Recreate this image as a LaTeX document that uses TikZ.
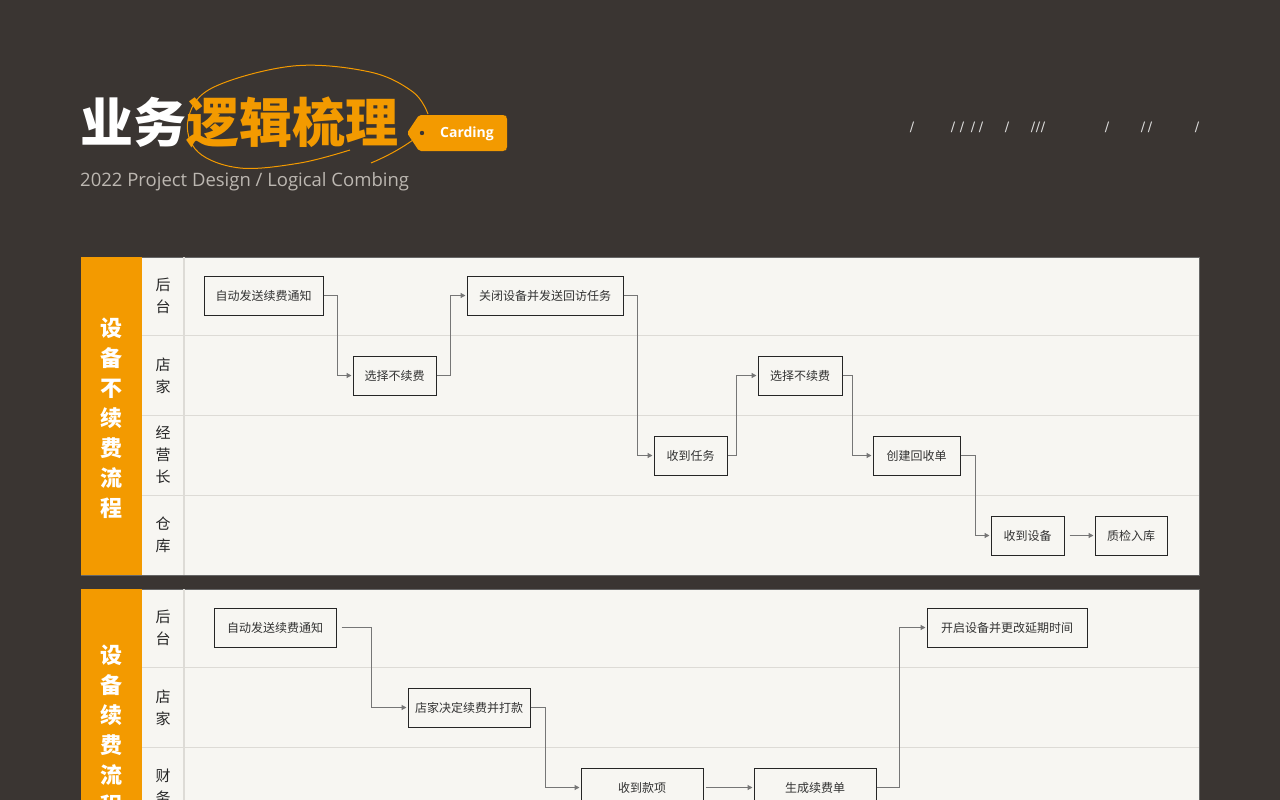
\documentclass[tikz,border=0pt]{standalone}
\usepackage{fontspec}
\usetikzlibrary{arrows.meta}
\newfontfamily\cjk{Noto Sans CJK SC}
\newfontfamily\latinsub{Open Sans}
\newfontfamily\symf{DejaVu Sans}
\definecolor{bgdark}{HTML}{3A3532}
\definecolor{panelbg}{HTML}{F7F6F2}
\definecolor{orng}{HTML}{F39A00}
\definecolor{laneline}{HTML}{DDDBD6}
\definecolor{connc}{HTML}{767676}
\definecolor{boxtext}{HTML}{333333}
\definecolor{subgrey}{HTML}{BCB7B1}
\tikzset{
  stepbox/.style={draw=black!85, line width=1pt, fill=panelbg, inner sep=0pt,
    minimum height=39pt, font=\cjk\fontsize{12}{14}\selectfont, text=boxtext},
  lanetxt/.style={font=\cjk\fontsize{15}{22}\selectfont, align=center, text=black!85, inner sep=0pt},
  striptxt/.style={font=\cjk\bfseries\fontsize{22}{30}\selectfont, align=center, text=white, inner sep=0pt},
  conn/.style={draw=connc, line width=1.2pt, -{Triangle[length=5pt,width=5pt]}, shorten >=1pt},
  slash/.style={font=\symf\fontsize{13}{13}\selectfont, text=white!88!black, inner sep=0pt},
}
\begin{document}
\begin{tikzpicture}[x=1pt,y=-1pt]
\useasboundingbox (0,0) rectangle (1280,800);
\clip (0,0) rectangle (1280,800);
\fill[bgdark] (0,0) rectangle (1280,800);

% ---------- title ----------
\node[anchor=west, inner sep=0pt, font=\cjk\bfseries\fontsize{53}{53}\selectfont] (title) at (80,122)
  {\textcolor{white}{业务}\textcolor{orng}{逻辑梳理}};
\node[anchor=west, inner sep=0pt, font=\latinsub\fontsize{18.5}{18.5}\selectfont, text=subgrey] (subtitle) at (80,182)
  {2022 Project Design / Logical Combing};
% hand-drawn loop
\draw[orng, line width=1pt] plot[smooth, tension=0.6] coordinates
  {(350,150) (300,163) (240,168) (198,152) (188,120) (212,88) (293,66) (370,72) (413,92) (428,114)};
\draw[orng, line width=1pt] (371,163) .. controls (390,155) and (403,147) .. (413,140);
% tag
\fill[orng, rounded corners=2pt] (419,115) -- (505,115) -- (507,117) -- (507,149) -- (505,151) -- (419,151) -- (407,133) -- cycle;
\node[coordinate] (taghole) at (422,133) {};
\fill[bgdark] (taghole) circle (2.2pt);
\node[inner sep=0pt, font=\latinsub\bfseries\fontsize{14}{14}\selectfont, text=white] (tagtxt) at (467,134) {Carding};
% slashes
\foreach \xx/\nm in {912/s1,953/s2,962/s3,973/s4,981/s5,1007/s6,1033/s7,1038/s8,1043/s9,1107/s10,1143/s11,1150/s12,1197/s13}
  \node[slash] (\nm) at (\xx,127) {/};

% ---------- panel 1 ----------
\fill[panelbg] (81,257) rectangle (1199,575);
\draw[black!60, line width=0.8pt] (81,257) rectangle (1199,575);
\fill[orng] (81,257) rectangle (142,575);
\draw[laneline, line width=1pt] (142,335) -- (1199,335) (142,415) -- (1199,415) (142,495) -- (1199,495);
\draw[laneline, line width=1.5pt] (184,257) -- (184,575);
\node[striptxt] (p1title) at (111,418) {设\\备\\不\\续\\费\\流\\程};
\node[lanetxt] (l1a) at (163,296) {后\\台};
\node[lanetxt] (l1b) at (163,376) {店\\家};
\node[lanetxt] (l1c) at (163,455) {经\\营\\长};
\node[lanetxt] (l1d) at (163,535) {仓\\库};

\node[stepbox, minimum width=119pt] (a1) at (263.5,295.5) {自动发送续费通知};
\node[stepbox, minimum width=83pt] (a2) at (394.5,375.5) {选择不续费};
\node[stepbox, minimum width=156pt] (a3) at (545,295.5) {关闭设备并发送回访任务};
\node[stepbox, minimum width=73pt] (a4) at (690.5,455.5) {收到任务};
\node[stepbox, minimum width=84pt] (a5) at (800,375.5) {选择不续费};
\node[stepbox, minimum width=87pt] (a6) at (916.5,455.5) {创建回收单};
\node[stepbox, minimum width=73pt] (a7) at (1027.5,535.5) {收到设备};
\node[stepbox, minimum width=72pt] (a8) at (1131,535.5) {质检入库};

\draw[conn] (a1.east) -- ++(14,0) |- (a2.west);
\draw[conn] (a2.east) -- ++(14,0) |- (a3.west);
\draw[conn] (a3.east) -- ++(14,0) |- (a4.west);
\draw[conn] (a4.east) -- ++(9,0) |- (a5.west);
\draw[conn] (a5.east) -- ++(10,0) |- (a6.west);
\draw[conn] (a6.east) -- ++(15,0) |- (a7.west);
\draw[conn, shorten <=5pt] (a7.east) -- (a8.west);

% ---------- panel 2 ----------
\fill[panelbg] (81,589) rectangle (1199,830);
\draw[black!60, line width=0.8pt] (81,589) rectangle (1199,830);
\fill[orng] (81,589) rectangle (142,830);
\draw[laneline, line width=1pt] (142,667) -- (1199,667) (142,747) -- (1199,747);
\draw[laneline, line width=1.5pt] (184,589) -- (184,830);
\node[striptxt] (p2title) at (111,730) {设\\备\\续\\费\\流\\程};
\node[lanetxt] (l2a) at (163,628) {后\\台};
\node[lanetxt] (l2b) at (163,708) {店\\家};
\node[lanetxt] (l2c) at (163,787) {财\\务};

\node[stepbox, minimum width=122pt] (b1) at (275,627.5) {自动发送续费通知};
\node[stepbox, minimum width=122pt] (b2) at (469,707.5) {店家决定续费并打款};
\node[stepbox, minimum width=122pt] (b3) at (642,787.5) {收到款项};
\node[stepbox, minimum width=122pt] (b4) at (815,787.5) {生成续费单};
\node[stepbox, minimum width=160pt] (b5) at (1007,627.5) {开启设备并更改延期时间};

\draw[conn, shorten <=5pt] (b1.east) -- ++(35,0) |- (b2.west);
\draw[conn] (b2.east) -- ++(15,0) |- (b3.west);
\draw[conn, shorten <=2pt] (b3.east) -- (b4.west);
\draw[conn] (b4.east) -- ++(23,0) |- (b5.west);
\end{tikzpicture}
\end{document}
